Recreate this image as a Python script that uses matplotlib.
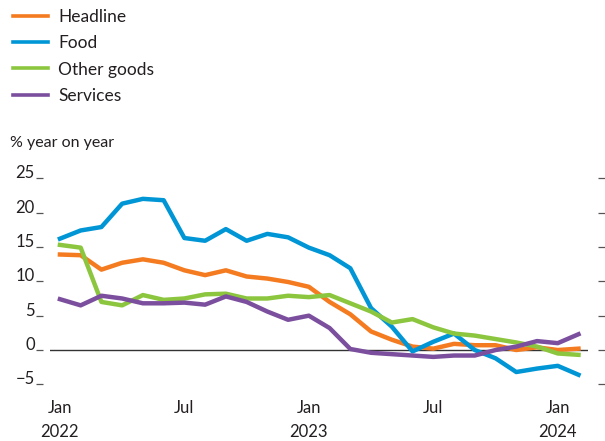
import numpy as np
import matplotlib
matplotlib.use('Agg')
import matplotlib.pyplot as plt

plt.rcParams['font.family'] = ['Lato', 'DejaVu Sans']

# monthly, Jan 2022 .. Feb 2024
months = np.arange(26)
headline = [13.9, 13.8, 11.7, 12.7, 13.2, 12.7, 11.6, 10.9, 11.6, 10.7, 10.4, 9.9,
            9.2, 7.0, 5.2, 2.7, 1.5, 0.5, 0.2, 0.9, 0.7, 0.7, 0.0, 0.4, 0.0, 0.2]
food = [16.2, 17.4, 17.9, 21.3, 22.0, 21.8, 16.3, 15.9, 17.6, 15.9, 16.9, 16.4,
        14.9, 13.8, 11.9, 6.1, 3.4, -0.2, 1.2, 2.4, 0.0, -1.2, -3.2, -2.7, -2.3, -3.6]
other_goods = [15.3, 14.9, 7.0, 6.5, 8.0, 7.3, 7.5, 8.1, 8.2, 7.5, 7.5, 7.9,
               7.7, 8.0, 6.8, 5.6, 4.0, 4.5, 3.3, 2.4, 2.1, 1.6, 1.1, 0.5, -0.5, -0.7]
services = [7.4, 6.5, 7.9, 7.5, 6.8, 6.8, 6.9, 6.6, 7.8, 7.0, 5.6, 4.4,
            5.0, 3.2, 0.15, -0.4, -0.6, -0.8, -1.0, -0.8, -0.8, 0.0, 0.5, 1.3, 1.0, 2.3]

series = [("Headline", headline, "#F47B20"),
          ("Food", food, "#0096D6"),
          ("Other goods", other_goods, "#8CC63F"),
          ("Services", services, "#7B4F9E")]

xtick_pos = [0, 6, 12, 18, 24]
xtick_labels = ["Jan\n2022", "Jul", "Jan\n2023", "Jul", "Jan\n2024"]
ytick_vals = [-5, 0, 5, 10, 15, 20, 25]
ytick_labels = ["\u22125", "0", "5", "10", "15", "20", "25"]

text_col = "#231f20"
tick_col = "#555555"

fig = plt.figure(figsize=(6.05, 4.41), dpi=100)
ax = fig.add_axes([0.0826, 0.105, 0.889, 0.522])

ax.axhline(0, color="#333333", lw=1.0, zorder=1)
for name, vals, col in series:
    ax.plot(months, vals, color=col, lw=3.2, label=name, solid_joinstyle='round', zorder=3)

ax.set_xlim(-0.48, 25.45)
ax.set_ylim(-6.5, 27)

for s in ax.spines.values():
    s.set_visible(False)
# offsets in points (1pt = 1.39px here)
ax.spines['left'].set_position(('outward', 5))
ax.spines['right'].set_position(('outward', 7.2))

ax.set_yticks(ytick_vals)
ax.set_yticklabels(ytick_labels)
ax.tick_params(axis='y', which='both', left=True, right=True, direction='out',
               length=5, width=0.9, color=tick_col, pad=1, labelsize=12,
               labelcolor=text_col)
for lab in ax.get_yticklabels():
    lab.set_verticalalignment('baseline')

ax.set_xticks(xtick_pos)
ax.set_xticklabels(xtick_labels, linespacing=1.6)
ax.tick_params(axis='x', length=0, pad=4, labelsize=12, labelcolor=text_col)

fig.text(0.017, 0.675, "% year on year", fontsize=11.5, color=text_col, va='center')

ax.legend(loc='upper left', bbox_to_anchor=(0.010, 0.996), bbox_transform=fig.transFigure,
          frameon=False, fontsize=12.5, handlelength=2.0, handletextpad=0.6,
          labelspacing=0.6, borderaxespad=0.0, labelcolor=text_col)
for line in ax.get_legend().get_lines():
    line.set_linewidth(2.6)

fig.savefig("out.png", dpi=100)
